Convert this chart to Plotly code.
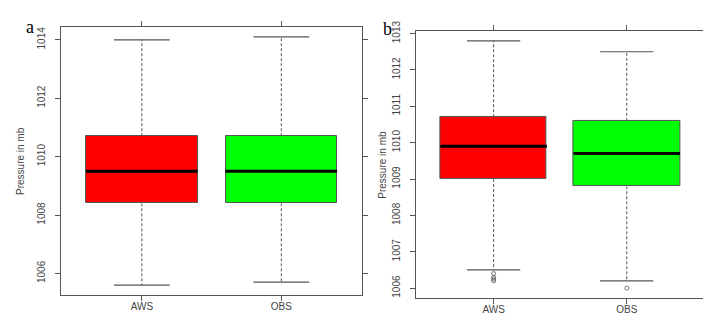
import plotly.graph_objects as go
from plotly.subplots import make_subplots

# box statistics (pressure, mb)
groups = ["AWS", "OBS"]
colors = ["#FF0000", "#00FF00"]

a_upper = [1014.0, 1014.1]
a_q3 = [1010.7, 1010.7]
a_median = [1009.5, 1009.5]
a_q1 = [1008.4, 1008.4]
a_lower = [1005.6, 1005.7]

b_upper = [1012.8, 1012.5]
b_q3 = [1010.7, 1010.6]
b_median = [1009.9, 1009.7]
b_q1 = [1009.0, 1008.8]
b_lower = [1006.5, 1006.2]
b_outliers = [[1006.4, 1006.3, 1006.25, 1006.2], [1006.0]]

pos = [1, 2]
box_w = 0.8
staple_w = 0.4
edge = "#555555"


def r_range(lo, hi):
    span = hi - lo
    return [lo - 0.04 * span, hi + 0.04 * span]


def add_boxplot(fig, col, upper, q3, med, q1, lower, outliers=None):
    # boxes
    fig.add_trace(go.Bar(
        x=pos, y=[t - b for t, b in zip(q3, q1)], base=q1, width=box_w,
        marker=dict(color=colors, line=dict(color=edge, width=1)),
        showlegend=False, hoverinfo="skip"), row=1, col=col)
    for i, x in enumerate(pos):
        # dashed whiskers
        fig.add_trace(go.Scatter(
            x=[x, x, None, x, x], y=[q3[i], upper[i], None, q1[i], lower[i]],
            mode="lines", line=dict(color=edge, width=1, dash="3px,2px"),
            showlegend=False, hoverinfo="skip"), row=1, col=col)
        # staples
        fig.add_trace(go.Scatter(
            x=[x - staple_w / 2, x + staple_w / 2, None, x - staple_w / 2, x + staple_w / 2],
            y=[upper[i], upper[i], None, lower[i], lower[i]],
            mode="lines", line=dict(color=edge, width=1.2),
            showlegend=False, hoverinfo="skip"), row=1, col=col)
        # median
        fig.add_trace(go.Scatter(
            x=[x - box_w / 2, x + box_w / 2], y=[med[i], med[i]],
            mode="lines", line=dict(color="black", width=3),
            showlegend=False, hoverinfo="skip"), row=1, col=col)
        if outliers and outliers[i]:
            fig.add_trace(go.Scatter(
                x=[x] * len(outliers[i]), y=outliers[i], mode="markers",
                marker=dict(symbol="circle-open", size=4, color=edge, line=dict(width=0.8)),
                showlegend=False, hoverinfo="skip"), row=1, col=col)


fig = make_subplots(rows=1, cols=2)
add_boxplot(fig, 1, a_upper, a_q3, a_median, a_q1, a_lower)
add_boxplot(fig, 2, b_upper, b_q3, b_median, b_q1, b_lower, b_outliers)

axis_common = dict(showline=True, mirror="ticks", linecolor=edge, linewidth=1,
                   ticks="outside", ticklen=5, tickcolor=edge, showgrid=False,
                   zeroline=False, tickfont=dict(size=10, color="#444"))

fig.update_xaxes(**axis_common, tickvals=pos, ticktext=groups,
                 range=r_range(0.5, 2.5), ticklabelstandoff=-3)
fig.update_xaxes(domain=[0, 0.4684], row=1, col=1)
fig.update_xaxes(domain=[0.5527, 1.0], row=1, col=2)

b_all = b_lower + b_upper + [v for o in b_outliers for v in o]
fig.update_yaxes(**axis_common, tickangle=-90, ticklabelstandoff=6)
fig.update_yaxes(domain=[0.011, 1.0], range=r_range(min(a_lower), max(a_upper)),
                 tick0=1006, dtick=2, row=1, col=1)
fig.update_yaxes(domain=[0.0, 0.9854], range=r_range(min(b_all), max(b_all)),
                 tick0=1006, dtick=1, row=1, col=2)

# y-axis titles
for xp, yp in [(-0.064, 0.505), (0.5, 0.49)]:
    fig.add_annotation(text="Pressure in mb", xref="paper", yref="paper", x=xp, y=yp,
                       textangle=-90, xanchor="center", yanchor="middle", showarrow=False,
                       font=dict(size=10, color="#444"))

fig.add_annotation(text="a", xref="paper", yref="paper", x=-0.0478, y=1.0,
                   xanchor="center", yanchor="middle", showarrow=False,
                   font=dict(family="Liberation Serif", size=18, color="black"))
fig.add_annotation(text="b", xref="paper", yref="paper", x=0.5085, y=0.9927,
                   xanchor="center", yanchor="middle", showarrow=False,
                   font=dict(family="Liberation Serif", size=18, color="black"))

fig.update_layout(
    width=711, height=323,
    margin=dict(l=53, r=9, t=16, b=33),
    paper_bgcolor="white", plot_bgcolor="white",
    font=dict(family="Liberation Sans, Arial", size=10, color="#444"),
    bargap=0,
)

fig.write_html("out.html")
